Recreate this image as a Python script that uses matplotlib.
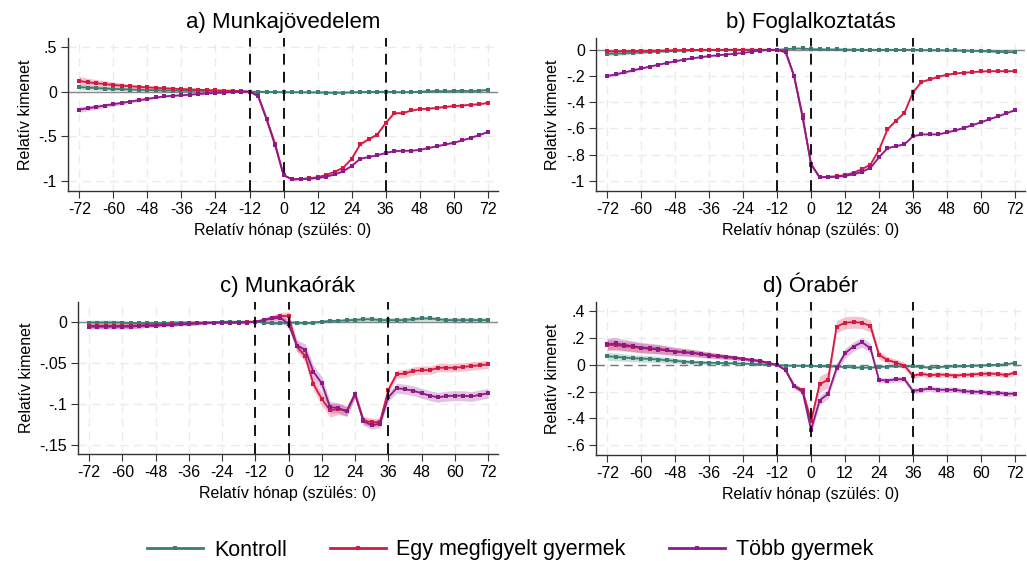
#! -*- coding: utf-8 -*-

#---------------------------------
# Imports
#---------------------------------
import numpy as np
import matplotlib
matplotlib.use('Agg')
import matplotlib.pyplot as plt
from matplotlib.lines import Line2D
from matplotlib.ticker import FuncFormatter

plt.rcParams['font.family'] = ['Liberation Sans', 'DejaVu Sans']
plt.rcParams['axes.unicode_minus'] = False

#---------------------------------
# Data (relative month, step 3)
#---------------------------------
months = np.arange(-72, 73, 3)

SERIES_NAMES = ['Kontroll', 'Egy megfigyelt gyermek', 'Több gyermek']
COLORS = ['#3b7d73', '#d21a42', '#8c1a8a']

# a) Munkajövedelem
a_kontroll = [0.05, 0.045, 0.04, 0.035, 0.03, 0.027, 0.024, 0.021, 0.018, 0.016, 0.014, 0.012, 0.011, 0.010, 0.009, 0.008, 0.007, 0.006, 0.004, 0.002, 0.0,
              0.0, -0.002, -0.004, -0.005, -0.006, -0.006, -0.007, -0.008, -0.01, -0.012, -0.01, -0.008, -0.005, -0.004, -0.002, 0.0,
              -0.004, -0.006, -0.004, 0.0, 0.004, 0.008, 0.004, 0.008, 0.01, 0.006, 0.012, 0.02]
a_egy = [0.12, 0.105, 0.095, 0.085, 0.075, 0.067, 0.06, 0.054, 0.048, 0.043, 0.038, 0.034, 0.03, 0.026, 0.022, 0.019, 0.016, 0.013, 0.01, 0.007, 0.0,
         -0.04, -0.3, -0.58, -0.93, -0.98, -0.975, -0.968, -0.955, -0.93, -0.895, -0.85, -0.75, -0.59, -0.53, -0.48, -0.35,
         -0.24, -0.24, -0.21, -0.195, -0.19, -0.18, -0.17, -0.16, -0.155, -0.145, -0.14, -0.125]
a_tobb = [-0.2, -0.185, -0.17, -0.155, -0.14, -0.125, -0.11, -0.095, -0.08, -0.065, -0.052, -0.045, -0.04, -0.033, -0.026, -0.02, -0.015, -0.01, -0.005, 0.0, 0.0,
          -0.05, -0.31, -0.6, -0.935, -0.98, -0.977, -0.972, -0.965, -0.95, -0.925, -0.89, -0.83, -0.75, -0.73, -0.71, -0.685,
          -0.665, -0.66, -0.66, -0.65, -0.63, -0.61, -0.59, -0.57, -0.545, -0.515, -0.485, -0.45]
a_kontroll_ci = [0.03, 0.027, 0.025, 0.022, 0.02, 0.018, 0.016, 0.014, 0.012, 0.011, 0.01, 0.009, 0.008, 0.007, 0.006, 0.005, 0.004, 0.003, 0.002, 0.001, 0.0,
                 0.003, 0.004, 0.005, 0.005, 0.006, 0.006, 0.006, 0.006, 0.006, 0.006, 0.006, 0.006, 0.006, 0.006, 0.007, 0.007,
                 0.007, 0.007, 0.007, 0.007, 0.008, 0.008, 0.008, 0.008, 0.008, 0.009, 0.009, 0.009]
a_egy_ci = [0.05, 0.045, 0.041, 0.037, 0.033, 0.03, 0.027, 0.024, 0.021, 0.019, 0.017, 0.015, 0.013, 0.011, 0.009, 0.008, 0.006, 0.005, 0.004, 0.002, 0.0,
            0.01, 0.012, 0.012, 0.012, 0.01, 0.01, 0.01, 0.01, 0.01, 0.012, 0.012, 0.014, 0.016, 0.016, 0.016, 0.016,
            0.014, 0.014, 0.012, 0.012, 0.012, 0.012, 0.012, 0.012, 0.012, 0.012, 0.012, 0.012]
a_tobb_ci = [0.03, 0.028, 0.026, 0.024, 0.022, 0.02, 0.018, 0.016, 0.014, 0.012, 0.011, 0.01, 0.009, 0.008, 0.007, 0.006, 0.005, 0.004, 0.003, 0.002, 0.0,
             0.006, 0.008, 0.008, 0.008, 0.008, 0.008, 0.008, 0.008, 0.008, 0.008, 0.008, 0.008, 0.008, 0.008, 0.008, 0.008,
             0.008, 0.008, 0.008, 0.008, 0.008, 0.008, 0.008, 0.008, 0.008, 0.008, 0.008, 0.008]

# b) Foglalkoztatás
b_kontroll = [-0.03, -0.03, -0.027, -0.024, -0.02, -0.017, -0.014, -0.011, -0.008, -0.006, -0.004, -0.003, -0.002, -0.001, 0.0, 0.0, 0.0, 0.0, 0.0, 0.0, 0.0,
              0.005, 0.01, 0.01, 0.005, 0.004, 0.003, 0.003, 0.002, 0.001, 0.0, 0.0, 0.0, 0.0, 0.0, 0.0, 0.0,
              -0.002, -0.003, -0.003, -0.004, -0.005, -0.006, -0.008, -0.01, -0.012, -0.015, -0.018, -0.018]
b_egy = [-0.012, -0.012, -0.011, -0.01, -0.008, -0.007, -0.006, -0.005, -0.003, -0.002, -0.001, 0.0, 0.0, 0.0, 0.0, 0.0, 0.0, 0.0, 0.0, 0.0, 0.0,
         -0.01, -0.2, -0.5, -0.875, -0.972, -0.968, -0.965, -0.955, -0.937, -0.91, -0.875, -0.764, -0.607, -0.54, -0.48, -0.325,
         -0.245, -0.226, -0.205, -0.19, -0.18, -0.175, -0.17, -0.165, -0.163, -0.163, -0.163, -0.163]
b_tobb = [-0.2, -0.187, -0.172, -0.157, -0.142, -0.128, -0.114, -0.1, -0.087, -0.075, -0.065, -0.056, -0.048, -0.042, -0.036, -0.03, -0.024, -0.015, -0.006, -0.002, 0.0,
          -0.02, -0.2, -0.52, -0.87, -0.972, -0.97, -0.968, -0.962, -0.95, -0.93, -0.9, -0.82, -0.75, -0.735, -0.72, -0.66,
          -0.645, -0.645, -0.645, -0.63, -0.615, -0.595, -0.575, -0.553, -0.53, -0.508, -0.485, -0.46]
b_kontroll_ci = [0.015, 0.014, 0.013, 0.012, 0.011, 0.01, 0.009, 0.008, 0.007, 0.006, 0.005, 0.004, 0.004, 0.003, 0.003, 0.002, 0.002, 0.001, 0.001, 0.001, 0.0,
                 0.003, 0.004, 0.004, 0.004, 0.004, 0.004, 0.004, 0.004, 0.004, 0.004, 0.004, 0.004, 0.004, 0.004, 0.004, 0.004,
                 0.005, 0.005, 0.005, 0.005, 0.005, 0.005, 0.005, 0.005, 0.006, 0.006, 0.006, 0.006]
b_egy_ci = [0.01, 0.01, 0.009, 0.009, 0.008, 0.007, 0.006, 0.005, 0.005, 0.004, 0.004, 0.003, 0.003, 0.002, 0.002, 0.002, 0.001, 0.001, 0.001, 0.001, 0.0,
            0.004, 0.006, 0.006, 0.006, 0.005, 0.005, 0.005, 0.005, 0.005, 0.006, 0.006, 0.007, 0.008, 0.008, 0.008, 0.008,
            0.007, 0.007, 0.006, 0.006, 0.006, 0.006, 0.006, 0.006, 0.006, 0.006, 0.006, 0.006]
b_tobb_ci = [0.012, 0.011, 0.011, 0.01, 0.009, 0.008, 0.007, 0.007, 0.006, 0.005, 0.005, 0.004, 0.004, 0.003, 0.003, 0.002, 0.002, 0.001, 0.001, 0.001, 0.0,
             0.004, 0.006, 0.006, 0.006, 0.005, 0.005, 0.005, 0.005, 0.005, 0.005, 0.005, 0.006, 0.006, 0.006, 0.006, 0.006,
             0.006, 0.006, 0.006, 0.006, 0.006, 0.006, 0.006, 0.006, 0.006, 0.006, 0.006, 0.006]

# c) Munkaórák
c_kontroll = [-0.001, -0.001, -0.001, -0.001, -0.001, -0.002, -0.002, -0.002, -0.002, -0.002, -0.001, -0.001, -0.001, -0.001, -0.001, -0.001, 0.0, 0.0, 0.0, 0.0, 0.0,
              -0.001, -0.002, -0.002, -0.001, -0.001, -0.002, -0.001, 0.0, 0.001, 0.001, 0.002, 0.002, 0.003, 0.003, 0.002, 0.002,
              0.002, 0.002, 0.003, 0.004, 0.004, 0.003, 0.002, 0.002, 0.002, 0.002, 0.002, 0.002]
c_egy = [-0.005, -0.005, -0.005, -0.005, -0.005, -0.005, -0.005, -0.004, -0.004, -0.004, -0.003, -0.003, -0.002, -0.002, -0.001, -0.001, -0.001, -0.001, -0.001, 0.0, 0.0,
         0.002, 0.005, 0.007, 0.007, -0.03, -0.042, -0.076, -0.094, -0.108, -0.106, -0.109, -0.088, -0.12, -0.1225, -0.122, -0.083,
         -0.064, -0.063, -0.06, -0.059, -0.059, -0.056, -0.056, -0.056, -0.055, -0.054, -0.053, -0.052]
c_tobb = [-0.006, -0.006, -0.006, -0.006, -0.006, -0.006, -0.005, -0.005, -0.005, -0.004, -0.004, -0.003, -0.003, -0.002, -0.002, -0.001, -0.001, -0.001, -0.001, -0.001, 0.0,
          0.002, 0.004, 0.005, -0.003, -0.029, -0.034, -0.061, -0.075, -0.104, -0.105, -0.109, -0.088, -0.121, -0.126, -0.124, -0.092,
          -0.081, -0.082, -0.084, -0.087, -0.09, -0.092, -0.0905, -0.09, -0.09, -0.091, -0.089, -0.087]
c_kontroll_ci = [0.003, 0.003, 0.003, 0.003, 0.002, 0.002, 0.002, 0.002, 0.002, 0.002, 0.002, 0.002, 0.002, 0.001, 0.001, 0.001, 0.001, 0.001, 0.001, 0.001, 0.0,
                 0.001, 0.002, 0.002, 0.002, 0.002, 0.002, 0.002, 0.002, 0.002, 0.002, 0.002, 0.003, 0.003, 0.003, 0.003, 0.003,
                 0.003, 0.003, 0.003, 0.003, 0.003, 0.003, 0.003, 0.003, 0.003, 0.003, 0.003, 0.003]
c_egy_ci = [0.003, 0.003, 0.003, 0.003, 0.003, 0.003, 0.003, 0.002, 0.002, 0.002, 0.002, 0.002, 0.002, 0.002, 0.001, 0.001, 0.001, 0.001, 0.001, 0.001, 0.0,
            0.002, 0.003, 0.004, 0.005, 0.006, 0.007, 0.008, 0.008, 0.008, 0.007, 0.006, 0.005, 0.005, 0.005, 0.005, 0.005,
            0.005, 0.005, 0.005, 0.005, 0.005, 0.005, 0.005, 0.005, 0.005, 0.005, 0.005, 0.005]
c_tobb_ci = [0.003, 0.003, 0.003, 0.003, 0.003, 0.003, 0.003, 0.002, 0.002, 0.002, 0.002, 0.002, 0.002, 0.002, 0.001, 0.001, 0.001, 0.001, 0.001, 0.001, 0.0,
             0.002, 0.003, 0.004, 0.005, 0.007, 0.007, 0.008, 0.008, 0.007, 0.006, 0.006, 0.005, 0.005, 0.005, 0.005, 0.005,
             0.006, 0.006, 0.006, 0.006, 0.006, 0.006, 0.006, 0.006, 0.006, 0.006, 0.006, 0.006]

# d) Órabér
d_kontroll = [0.065, 0.06, 0.055, 0.05, 0.047, 0.045, 0.04, 0.035, 0.03, 0.025, 0.02, 0.018, 0.016, 0.015, 0.013, 0.012, 0.01, 0.008, 0.005, 0.003, 0.0,
              -0.005, -0.005, -0.007, -0.007, -0.01, -0.01, -0.012, -0.015, -0.018, -0.02, -0.02, -0.015, -0.012, -0.01, -0.01, -0.01,
              -0.015, -0.02, -0.015, -0.012, -0.01, -0.01, -0.005, -0.005, 0.0, 0.0, 0.005, 0.015]
d_egy = [0.15, 0.148, 0.14, 0.135, 0.125, 0.12, 0.115, 0.108, 0.1, 0.095, 0.09, 0.083, 0.075, 0.068, 0.06, 0.052, 0.045, 0.035, 0.028, 0.015, 0.0,
         -0.037, -0.154, -0.19, -0.42, -0.144, -0.112, 0.285, 0.315, 0.32, 0.315, 0.29, 0.075, 0.037, 0.017, -0.005, -0.082,
         -0.067, -0.077, -0.072, -0.074, -0.08, -0.075, -0.072, -0.067, -0.065, -0.067, -0.077, -0.057]
d_tobb = [0.155, 0.16, 0.15, 0.14, 0.13, 0.125, 0.12, 0.11, 0.1, 0.095, 0.09, 0.08, 0.07, 0.065, 0.06, 0.055, 0.045, 0.038, 0.03, 0.015, 0.0,
          -0.04, -0.16, -0.2, -0.485, -0.266, -0.216, -0.025, 0.087, 0.137, 0.169, 0.124, -0.112, -0.117, -0.107, -0.107, -0.194,
          -0.186, -0.176, -0.186, -0.186, -0.186, -0.196, -0.201, -0.201, -0.208, -0.208, -0.216, -0.214]
d_kontroll_ci = [0.03, 0.029, 0.028, 0.027, 0.026, 0.025, 0.024, 0.022, 0.02, 0.018, 0.016, 0.014, 0.012, 0.011, 0.01, 0.008, 0.007, 0.005, 0.004, 0.002, 0.0,
                 0.005, 0.006, 0.007, 0.008, 0.008, 0.008, 0.008, 0.008, 0.008, 0.008, 0.008, 0.008, 0.008, 0.008, 0.008, 0.008,
                 0.009, 0.009, 0.009, 0.009, 0.009, 0.009, 0.009, 0.01, 0.01, 0.01, 0.01, 0.01]
d_egy_ci = [0.04, 0.039, 0.038, 0.037, 0.036, 0.035, 0.034, 0.032, 0.03, 0.028, 0.026, 0.024, 0.022, 0.02, 0.018, 0.016, 0.014, 0.012, 0.01, 0.006, 0.0,
            0.01, 0.015, 0.02, 0.03, 0.06, 0.06, 0.045, 0.045, 0.045, 0.045, 0.045, 0.03, 0.025, 0.025, 0.025, 0.02,
            0.02, 0.02, 0.02, 0.02, 0.02, 0.02, 0.02, 0.02, 0.02, 0.02, 0.02, 0.02]
d_tobb_ci = [0.045, 0.044, 0.042, 0.04, 0.038, 0.036, 0.034, 0.032, 0.03, 0.028, 0.026, 0.024, 0.022, 0.02, 0.018, 0.016, 0.014, 0.012, 0.01, 0.006, 0.0,
             0.01, 0.015, 0.02, 0.03, 0.035, 0.035, 0.035, 0.035, 0.035, 0.035, 0.035, 0.02, 0.02, 0.02, 0.02, 0.02,
             0.02, 0.02, 0.02, 0.02, 0.02, 0.02, 0.02, 0.02, 0.02, 0.02, 0.02, 0.02]

#---------------------------------
# Panel settings
#---------------------------------
FIG_W, FIG_H = 1027, 561
PANELS = [
    # title, series, ci, yticks, ylim, axes box in pixels (left, top, right, bottom), dashed zero line
    ('a) Munkajövedelem', [a_kontroll, a_egy, a_tobb], [a_kontroll_ci, a_egy_ci, a_tobb_ci],
     [-1, -0.5, 0, 0.5], (-1.11, 0.6), (68, 38, 498, 191), False),
    ('b) Foglalkoztatás', [b_kontroll, b_egy, b_tobb], [b_kontroll_ci, b_egy_ci, b_tobb_ci],
     [-1, -0.8, -0.6, -0.4, -0.2, 0], (-1.077, 0.09), (596, 38, 1025, 191), False),
    ('c) Munkaórák', [c_kontroll, c_egy, c_tobb], [c_kontroll_ci, c_egy_ci, c_tobb_ci],
     [-0.15, -0.1, -0.05, 0], (-0.161, 0.024), (78, 302, 498, 454), False),
    ('d) Órabér', [d_kontroll, d_egy, d_tobb], [d_kontroll_ci, d_egy_ci, d_tobb_ci],
     [-0.6, -0.4, -0.2, 0, 0.2, 0.4], (-0.673, 0.47), (596, 302, 1025, 455), True),
]

#---------------------------------
# Functions
#---------------------------------
def stata_fmt(v, pos):
    # --- Stata style: ".5", "-.05", "0" ---
    if abs(v) < 1e-9:
        return '0'
    s = '{:g}'.format(v)
    s = s.replace('0.', '.')
    return s

def draw_panel(fig, title, series, cis, yticks, ylim, box, dashed_zero):
    l, t, r, b = box
    ax = fig.add_axes([l / FIG_W, 1 - b / FIG_H, (r - l) / FIG_W, (b - t) / FIG_H])

    # --- grid ---
    for x in range(-72, 73, 12):
        ax.axvline(x, color='#ebebeb', lw=1.0, ls=(0, (6, 4)), zorder=0)
    for y in yticks:
        ax.axhline(y, color='#ebebeb', lw=1.0, ls=(0, (6, 4)), zorder=0)

    # --- zero line ---
    if dashed_zero:
        ax.axhline(0, color='#777777', lw=1.0, ls=(0, (6, 4)), zorder=1)
    else:
        ax.axhline(0, color='#888888', lw=1.0, zorder=1)

    # --- CI bands and lines ---
    for cnt, (_y, _ci) in enumerate(zip(series, cis)):
        _y = np.array(_y)
        _ci = np.array(_ci)
        ax.fill_between(months, _y - _ci, _y + _ci, color=COLORS[cnt], alpha=0.26, lw=0, zorder=2)
    for cnt, _y in enumerate(series):
        ax.plot(months, _y, color=COLORS[cnt], lw=1.3, marker='s', ms=2.3, mew=0, zorder=3 + cnt)

    # --- event lines ---
    for x in [-12, 0, 36]:
        ax.axvline(x, color='black', lw=1.3, ls=(0, (6, 4)), zorder=6)

    # --- axes ---
    ax.set_xlim(-76, 75.6)
    ax.set_ylim(*ylim)
    ax.set_xticks(range(-72, 73, 12))
    ax.set_yticks(yticks)
    ax.yaxis.set_major_formatter(FuncFormatter(stata_fmt))
    ax.tick_params(labelsize=11.5, length=5, color='#333333', direction='out', pad=3)
    for side in ['top', 'right']:
        ax.spines[side].set_visible(False)
    for side in ['left', 'bottom']:
        ax.spines[side].set_color('#333333')
        ax.spines[side].set_linewidth(1.0)
    ax.set_title(title, fontsize=16, pad=7)
    ax.set_xlabel('Relatív hónap (szülés: 0)', fontsize=11.5, labelpad=4)
    ax.set_ylabel('Relatív kimenet', fontsize=11.5, labelpad=4)
    return ax

def main():
    fig = plt.figure(figsize=(FIG_W / 100, FIG_H / 100), dpi=100)
    for p in PANELS:
        draw_panel(fig, *p)

    # --- legend ---
    handles = [Line2D([], [], color=c, lw=2, marker='s', ms=2.5, mew=0) for c in COLORS]
    fig.legend(handles, SERIES_NAMES, loc='center', bbox_to_anchor=(0.4966, 1 - 550 / FIG_H),
               ncol=3, frameon=False, fontsize=15.5, handlelength=2.6, handletextpad=0.5,
               columnspacing=2.0, numpoints=1)

    fig.savefig('out.png', dpi=100)
    plt.close(fig)

if __name__ == '__main__':
    main()
